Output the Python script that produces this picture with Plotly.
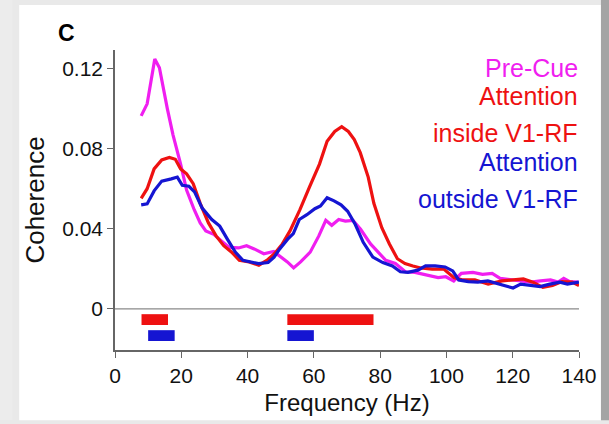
import plotly.graph_objects as go

# ---- data ----
precue_f = [7.9, 9.7, 12.0, 13.4, 15.8, 17.5, 19.8, 21.6, 23.9, 25.7, 27.4, 29.8, 32.1, 34.4, 37.3, 39.7,
            42.0, 44.9, 47.9, 49.6, 52.0, 53.9, 56.0, 58.9, 61.5, 63.6, 65.4, 67.5, 69.5, 71.8, 74.1, 77.1,
            79.4, 81.7, 84.6, 87.6, 90.5, 94.0, 97.5, 99.8, 102.2, 104.5, 108.0, 110.9, 113.8, 116.2, 119.7,
            122.6, 125.5, 128.4, 131.4, 133.7, 135.4, 137.2, 139.8]
precue_c = [0.0965, 0.1025, 0.1249, 0.1205, 0.100, 0.087, 0.0724, 0.0594, 0.0496, 0.043, 0.039, 0.0373,
            0.034, 0.0308, 0.0305, 0.0316, 0.030, 0.0276, 0.0287, 0.0267, 0.0235, 0.0205, 0.0235, 0.0284,
            0.0365, 0.0443, 0.0418, 0.0447, 0.0439, 0.0443, 0.0398, 0.0325, 0.0284, 0.0243, 0.0227, 0.0186,
            0.0183, 0.017, 0.0157, 0.0161, 0.014, 0.0178, 0.0183, 0.0173, 0.0178, 0.0153, 0.0145, 0.0137,
            0.0134, 0.014, 0.0145, 0.0134, 0.0153, 0.0137, 0.0134]

inside_f = [7.9, 9.7, 11.8, 14.1, 16.4, 18.2, 19.8, 21.6, 23.6, 25.7, 28.2, 30.5, 32.8, 35.2, 37.5, 40.5,
            43.4, 45.8, 48.1, 50.5, 52.8, 55.8, 58.7, 61.7, 64.0, 66.3, 68.4, 70.4, 72.2, 74.0, 76.4, 78.1,
            80.5, 82.8, 85.2, 87.5, 89.9, 92.2, 95.7, 99.2, 102.2, 105.0, 108.6, 112.6, 116.8, 120.2, 123.2,
            126.1, 129.1, 132.0, 134.9, 137.9, 140.0]
inside_c = [0.0553, 0.0601, 0.070, 0.0745, 0.0757, 0.0748, 0.070, 0.0675, 0.0626, 0.0528, 0.043, 0.0365,
            0.0316, 0.0284, 0.0243, 0.0235, 0.0219, 0.0243, 0.0276, 0.0325, 0.039, 0.0496, 0.061, 0.0724,
            0.0838, 0.0887, 0.0911, 0.0887, 0.0846, 0.0781, 0.0659, 0.0528, 0.0406, 0.0325, 0.0251, 0.0227,
            0.0215, 0.0205, 0.0199, 0.0199, 0.0157, 0.0145, 0.0145, 0.0124, 0.014, 0.0145, 0.015, 0.0134,
            0.0108, 0.0117, 0.0137, 0.0134, 0.0117]

outside_f = [7.9, 9.7, 11.8, 14.1, 17.0, 18.8, 20.3, 22.3, 24.0, 26.3, 29.2, 31.6, 33.9, 36.3, 38.6, 41.0,
             43.3, 46.2, 48.0, 49.7, 52.1, 53.8, 55.6, 57.9, 60.3, 62.0, 64.0, 66.1, 68.2, 70.2, 72.5, 74.9,
             77.8, 80.8, 83.7, 86.1, 88.4, 91.4, 93.7, 96.6, 99.6, 101.9, 103.7, 106.6, 109.5, 112.5, 114.8,
             117.7, 120.1, 122.4, 125.4, 128.3, 131.2, 134.2, 136.5, 140.0]
outside_c = [0.052, 0.0525, 0.059, 0.0639, 0.065, 0.0659, 0.0618, 0.0613, 0.0585, 0.0504, 0.0447, 0.0414,
             0.0349, 0.0284, 0.0243, 0.0235, 0.0227, 0.0232, 0.0259, 0.030, 0.0349, 0.0377, 0.0447, 0.0471,
             0.0501, 0.0515, 0.0556, 0.054, 0.052, 0.0488, 0.0422, 0.0333, 0.0259, 0.0232, 0.0215, 0.0186,
             0.0183, 0.0194, 0.0215, 0.0215, 0.021, 0.019, 0.0145, 0.0137, 0.0134, 0.014, 0.0129, 0.0117,
             0.0105, 0.0124, 0.0117, 0.0112, 0.0124, 0.0134, 0.0124, 0.0134]

# significance bars (start, end in Hz)
inside_sig_start = [8, 52]
inside_sig_end = [16, 78]
outside_sig_start = [10, 52]
outside_sig_end = [18, 60]
inside_sig_level = -0.0053
outside_sig_level = -0.0133

x_ticks = [0, 20, 40, 60, 80, 100, 120, 140]
y_ticks = [0, 0.04, 0.08, 0.12]
y_tick_text = ["0", "0.04", "0.08", "0.12"]

legend_labels = ["Pre-Cue", "Attention", "inside V1-RF", "Attention", "outside V1-RF"]

MAG = "#f01ef0"
RED = "#ee1111"
BLUE = "#1515d2"

# ---- figure ----
W, H = 609, 424
ML, MR, MT, MB = 115, 29, 50, 67
PW, PH = W - ML - MR, H - MT - MB


def px_x(p):
    return (p - ML) / PW


def px_y(p):
    return (H - MB - p) / PH


fig = go.Figure()

fig.add_trace(go.Bar(
    orientation="h",
    y=[inside_sig_level] * len(inside_sig_start),
    base=inside_sig_start,
    x=[e - s for s, e in zip(inside_sig_start, inside_sig_end)],
    width=0.0054, marker=dict(color=RED, line=dict(width=0)), hoverinfo="skip"))
fig.add_trace(go.Bar(
    orientation="h",
    y=[outside_sig_level] * len(outside_sig_start),
    base=outside_sig_start,
    x=[e - s for s, e in zip(outside_sig_start, outside_sig_end)],
    width=0.0054, marker=dict(color=BLUE, line=dict(width=0)), hoverinfo="skip"))

fig.add_trace(go.Scatter(x=precue_f, y=precue_c, mode="lines",
                         line=dict(color=MAG, width=3.2)))
fig.add_trace(go.Scatter(x=inside_f, y=inside_c, mode="lines",
                         line=dict(color=RED, width=3.2)))
fig.add_trace(go.Scatter(x=outside_f, y=outside_c, mode="lines",
                         line=dict(color=BLUE, width=3.2)))

# background: light gray page with white card and darker right edge
fig.add_shape(type="rect", xref="paper", yref="paper", layer="below",
              x0=px_x(19), x1=px_x(602), y0=px_y(H + 5), y1=px_y(4),
              fillcolor="white", line=dict(width=0))
fig.add_shape(type="rect", xref="paper", yref="paper", layer="below",
              x0=px_x(602), x1=px_x(W + 5), y0=px_y(H + 5), y1=px_y(-5),
              fillcolor="#a4a4a4", line=dict(width=0))
fig.add_shape(type="rect", xref="paper", yref="paper", layer="below",
              x0=px_x(-5), x1=px_x(12), y0=px_y(H + 5), y1=px_y(-5),
              fillcolor="#ececec", line=dict(width=0))

# zero line
fig.add_shape(type="line", xref="x", yref="y", x0=0, x1=140, y0=0, y1=0,
              line=dict(color="#8a8a8a", width=1.2), layer="below")

legend_colors = [MAG, RED, RED, BLUE, BLUE]
legend_y_px = [68.5, 97.5, 134.5, 164.5, 202]
for lab, col, yp in zip(legend_labels, legend_colors, legend_y_px):
    fig.add_annotation(text=lab, xref="paper", yref="paper", x=px_x(581), y=px_y(yp),
                       xanchor="right", yanchor="middle", showarrow=False,
                       font=dict(family="Liberation Sans, Arial, sans-serif", size=25, color=col))

fig.add_annotation(text="<b>C</b>", xref="paper", yref="paper", x=px_x(66), y=px_y(33),
                   xanchor="center", yanchor="middle", showarrow=False,
                   font=dict(family="Liberation Sans, Arial, sans-serif", size=23, color="black"))

fig.update_layout(
    width=W, height=H,
    margin=dict(l=ML, r=MR, t=MT, b=MB, pad=0),
    paper_bgcolor="#e9e9e9",
    plot_bgcolor="rgba(0,0,0,0)",
    showlegend=False,
    barmode="overlay",
    font=dict(family="Liberation Sans, Arial, sans-serif", color="#111111"),
)
fig.update_xaxes(range=[0, 140], tickvals=x_ticks, ticks="outside", ticklen=6, tickwidth=1.2,
                 tickcolor="#666666", showline=True, linecolor="#666666", linewidth=1.5,
                 showgrid=False, zeroline=False, tickfont=dict(size=21),
                 title=dict(text="Frequency (Hz)", font=dict(size=24), standoff=8))
fig.update_yaxes(range=[-0.0205, 0.1294], tickvals=y_ticks, ticktext=y_tick_text, ticks="outside",
                 ticklen=6, tickwidth=1.2, tickcolor="#666666", showline=True, linecolor="#666666",
                 linewidth=1.5, showgrid=False, zeroline=False, tickfont=dict(size=21),
                 title=dict(text="Coherence", font=dict(size=26), standoff=10))

fig.write_html("out.html", config={"displayModeBar": False},
               post_script="document.body.style.margin='0';document.body.style.overflow='hidden';")
